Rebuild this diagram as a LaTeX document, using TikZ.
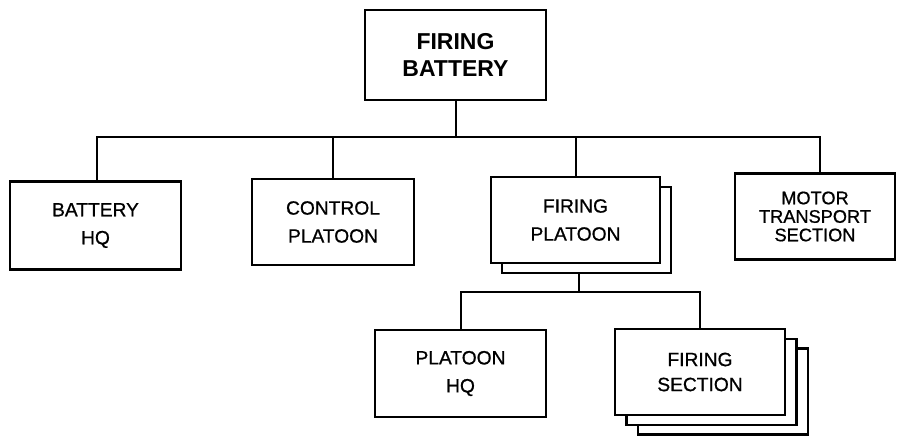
\documentclass[tikz,border=0pt]{standalone}
\usepackage{fontspec}
\setmainfont{Liberation Sans}
\newfontfamily\heavyfont[FakeBold=0.8]{Liberation Sans}
\begin{document}
\begin{tikzpicture}[x=1pt,y=-1pt,
  box/.style={draw=black,fill=white,line width=2.2pt,rectangle,inner sep=0pt,align=center,
    font=\heavyfont\fontsize{19.2}{28}\selectfont},
  conn/.style={line width=2pt,line cap=rect}]
\useasboundingbox (0,0) rectangle (899,437);
% top
\node[box,minimum width=181pt,minimum height=90pt,font=\fontsize{23}{26.5}\selectfont\bfseries] (fb) at (455.5,55) {FIRING\\BATTERY};
% second row
\node[box,minimum width=171pt,minimum height=88pt] (bhq) at (95.5,225.5) {BATTERY\\HQ};
\node[box,minimum width=162pt,minimum height=86pt] (cp) at (333,222) {CONTROL\\PLATOON};
\node[box,minimum width=169pt,minimum height=86pt] (fpb) at (586.5,230) {};
\node[box,minimum width=169pt,minimum height=86pt] (fp) at (575.5,220) {FIRING\\PLATOON};
\node[box,minimum width=160pt,minimum height=86pt,font=\heavyfont\fontsize{18.2}{18.5}\selectfont] (mts) at (815,216.5) {MOTOR\\TRANSPORT\\SECTION};
% third row
\node[box,minimum width=171pt,minimum height=87pt] (phq) at (460.5,373.5) {PLATOON\\HQ};
\node[box,minimum width=170pt,minimum height=86pt] (fs3) at (723,391.5) {};
\node[box,minimum width=170pt,minimum height=86pt] (fs2) at (711.5,382) {};
\node[box,minimum width=170pt,minimum height=86pt,font=\heavyfont\fontsize{19.2}{25}\selectfont] (fs) at (700,372) {FIRING\\SECTION};
% connectors
\coordinate (busL) at (97,137);
\coordinate (busR) at (820,137);
\coordinate (j2) at (579,292);
\draw[conn] (fb.south) -- (fb.south |- busL);
\draw[conn] (busL |- bhq.north) -- (busL) -- (busR) -- (busR |- mts.north);
\draw[conn] (cp.north) -- (cp.north |- busL);
\draw[conn] (fp.north) -- (fp.north |- busL);
\draw[conn] (j2 |- fpb.south) -- (j2);
\draw[conn] (phq.north) -- (phq.north |- j2) -- (fs.north |- j2) -- (fs.north);
\end{tikzpicture}
\end{document}
